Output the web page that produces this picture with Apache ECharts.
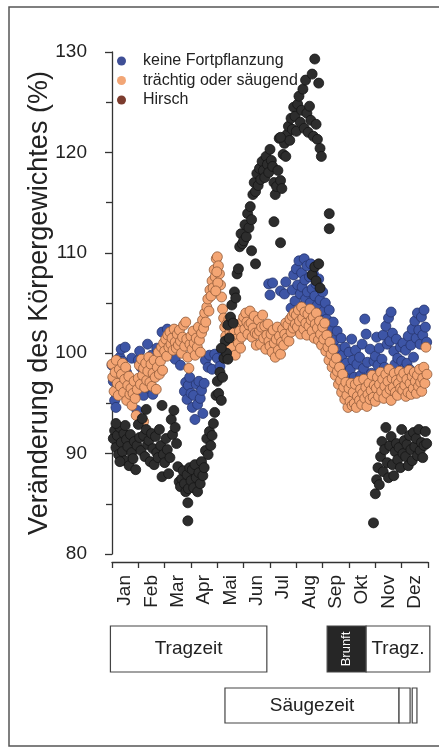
<!DOCTYPE html>
<html>
<head>
<meta charset="utf-8">
<script src="https://cdn.jsdelivr.net/npm/echarts@6/dist/echarts.min.js"></script>
<style>html,body{margin:0;padding:0;background:#fff}#c{width:439px;height:747px}</style>
</head>
<body>
<div id="c"></div>
<script>
const monthLabels = ['Jan','Feb','Mar','Apr','Mai','Jun','Jul','Aug','Sep','Okt','Nov','Dez'];
const seriesNames = ['keine Fortpflanzung','trächtig oder säugend','Hirsch'];

const keineFortpflanzung = [
[0.0,98.8],[0.05,97.2],[0.1,95.3],[0.15,94.6],[0.2,96.0],[0.25,98.5],[0.3,99.6],[0.35,100.4],[0.4,99.2],[0.45,97.8],[0.5,100.6],[0.55,98.1],[0.6,96.4],[0.7,97.0],[0.75,99.5],[0.8,95.6],[0.9,96.8],[0.95,94.3],
[1.0,99.3],[1.05,100.2],[1.1,98.6],[1.15,97.3],[1.2,95.8],[1.3,99.1],[1.35,100.9],[1.4,96.5],[1.5,99.8],[1.55,95.9],[1.6,98.2],[1.7,100.5],[1.8,99.6],[1.9,102.1],[1.95,100.3],
[2.0,99.8],[2.05,101.2],[2.1,102.4],[2.2,100.7],[2.3,101.8],[2.4,99.4],[2.5,100.6],[2.6,98.8],[2.75,96.2],[2.8,97.1],[2.85,95.4],[2.9,96.8],[2.95,97.6],
[3.0,96.0],[3.05,94.6],[3.1,95.8],[3.15,93.4],[3.2,96.9],[3.25,94.9],[3.3,97.2],[3.35,95.5],[3.4,96.3],[3.45,94.0],[3.5,97.0],[3.55,99.3],[3.65,98.6],[3.7,99.8],[3.8,98.4],[3.9,99.9],
[4.0,99.5],[4.1,98.7],[4.2,100.2],
[5.95,106.9],[6.0,105.8],[6.1,107.0],[6.4,106.2],[6.55,105.9],[6.6,107.1],
[6.8,104.5],[6.85,106.3],[6.9,107.8],[6.95,105.2],[7.0,108.4],[7.02,104.1],[7.05,106.8],[7.1,109.2],[7.12,103.6],[7.15,105.9],[7.2,108.0],[7.22,106.6],[7.25,104.7],[7.3,109.4],[7.32,107.3],[7.35,105.4],[7.4,108.7],[7.42,106.1],[7.45,103.9],[7.5,107.6],[7.52,105.0],[7.55,108.9],[7.6,106.4],[7.62,104.3],[7.65,107.9],[7.7,105.7],[7.72,103.2],[7.75,106.9],[7.8,104.8],[7.85,107.4],[7.9,105.3],[7.95,103.7],[8.0,106.1],[8.05,104.2],[8.1,102.6],[8.1,101.6],
[8.1,105.0],[8.15,103.4],[8.2,101.9],[8.25,104.3],[8.3,102.5],[8.35,100.8],[8.4,103.1],[8.45,101.3],[8.5,99.6],[8.55,102.2],[8.6,100.4],[8.65,98.9],[8.7,101.5],[8.75,99.8],[8.8,98.2],[8.85,100.6],[8.9,99.0],[8.95,97.4],
[9.0,100.1],[9.05,98.4],[9.1,101.4],[9.15,99.3],[9.2,97.6],[9.25,100.3],[9.3,98.9],[9.35,96.8],[9.4,99.6],[9.45,97.8],[9.5,100.9],[9.55,98.5],[9.6,103.4],[9.65,101.9],[9.7,99.1],[9.75,97.2],[9.8,100.4],[9.85,98.0],[9.9,96.5],[9.95,99.2],
[10.0,99.7],[10.05,101.6],[10.1,98.8],[10.15,100.5],[10.2,97.9],[10.25,99.4],[10.3,101.8],[10.35,98.6],[10.4,102.7],[10.45,100.9],[10.5,103.5],[10.55,101.2],[10.6,104.1],[10.65,102.0],[10.7,100.2],[10.75,98.9],[10.8,101.4],[10.85,99.5],[10.9,97.8],[10.95,100.6],
[11.0,99.2],[11.05,101.0],[11.1,98.5],[11.15,100.3],[11.2,99.0],[11.25,101.7],[11.3,98.4],[11.35,100.8],[11.4,102.4],[11.45,99.6],[11.5,103.2],[11.55,101.5],[11.6,104.0],[11.65,102.3],[11.7,100.9],[11.75,103.6],[11.8,101.8],[11.85,104.3],[11.9,102.6],[11.95,101.1]
];

const traechtigOderSaeugend = [
[0.0,98.9],[0.03,97.6],[0.08,96.2],[0.12,98.1],[0.16,99.3],[0.2,97.0],[0.24,95.8],[0.28,98.4],[0.32,96.7],[0.36,97.9],[0.4,99.0],[0.44,96.1],[0.48,97.4],[0.52,98.6],[0.56,95.3],[0.6,96.8],[0.64,97.7],[0.68,95.9],[0.72,96.5],[0.76,94.8],[0.8,96.0],[0.84,97.2],[0.88,95.5],[0.92,93.8],[0.96,96.4],
[1.0,97.5],[1.04,98.8],[1.08,96.9],[1.12,99.4],[1.16,97.8],[1.2,98.5],[1.24,96.6],[1.28,99.0],[1.32,97.3],[1.36,98.2],[1.4,99.6],[1.44,97.1],[1.48,98.9],[1.52,96.7],[1.56,98.0],[1.6,99.3],[1.64,97.6],[1.68,96.4],[1.72,98.6],[1.76,100.1],[1.8,97.9],[1.84,99.2],[1.88,100.6],[1.92,98.3],[1.96,101.0],[1.2,93.2],
[2.0,100.2],[2.04,101.4],[2.08,99.7],[2.12,101.8],[2.16,100.6],[2.2,102.1],[2.24,100.9],[2.28,101.5],[2.32,100.3],[2.36,102.4],[2.4,101.1],[2.44,100.5],[2.48,101.9],[2.52,100.8],[2.56,102.3],[2.6,101.2],[2.64,100.0],[2.68,101.6],[2.72,102.8],[2.76,100.7],[2.8,103.1],[2.84,101.4],[2.88,99.6],[2.92,98.5],[2.96,100.9],
[3.0,101.7],[3.04,100.4],[3.08,102.2],[3.12,101.0],[3.16,99.8],[3.2,101.5],[3.24,100.6],[3.28,102.6],[3.32,101.3],[3.36,100.1],[3.4,102.0],[3.44,103.3],[3.48,102.5],[3.52,104.0],[3.56,103.1],[3.6,104.6],[3.64,105.4],[3.68,104.2],[3.72,106.3],[3.76,105.7],[3.8,107.2],[3.84,106.5],[3.88,108.3],[3.92,107.6],[3.96,109.4],
[4.0,109.6],[4.04,108.7],[4.08,107.9],[4.12,106.8],[4.16,105.6],[4.2,104.4],[4.24,103.5],[4.28,102.6],[4.32,101.7],[4.36,102.9],[4.4,101.2],[4.44,103.4],[4.48,102.1],[4.52,100.6],[4.56,101.8],[4.6,103.0],[4.64,102.3],[4.68,99.8],[4.72,101.4],[4.76,102.8],[4.8,101.0],[4.84,102.2],[4.88,100.5],[4.92,101.6],[4.96,103.2],[3.98,108.1],[4.02,107.0],[3.94,106.2],
[5.0,103.6],[5.04,102.4],[5.08,104.0],[5.12,103.1],[5.16,101.9],[5.2,102.8],[5.24,104.2],[5.28,103.0],[5.32,101.6],[5.36,102.5],[5.4,103.7],[5.44,102.0],[5.48,100.8],[5.52,101.9],[5.56,103.3],[5.6,102.2],[5.64,100.9],[5.68,102.6],[5.72,103.8],[5.76,101.5],[5.8,102.7],[5.84,100.4],[5.88,101.8],[5.92,102.9],[5.96,101.2],
[6.0,100.7],[6.04,101.9],[6.08,100.1],[6.12,102.3],[6.16,101.0],[6.2,99.6],[6.24,101.4],[6.28,102.6],[6.32,100.3],[6.36,101.7],[6.4,99.9],[6.44,101.1],[6.48,102.4],[6.52,100.8],[6.56,101.9],[6.6,103.0],[6.64,101.5],[6.68,102.8],[6.72,101.2],[6.76,103.4],[6.8,102.1],[6.84,103.7],[6.88,102.5],[6.92,104.0],[6.96,102.9],
[7.0,103.8],[7.04,102.6],[7.08,104.3],[7.12,103.2],[7.16,101.9],[7.2,104.6],[7.24,103.5],[7.28,102.4],[7.32,104.1],[7.36,103.0],[7.4,101.8],[7.44,103.9],[7.48,102.7],[7.52,104.4],[7.56,103.3],[7.6,102.2],[7.64,103.6],[7.68,101.5],[7.72,102.9],[7.76,104.0],[7.8,102.5],[7.84,101.3],[7.88,103.2],[7.92,101.9],[7.96,100.8],
[8.0,102.6],[8.04,101.4],[8.08,103.0],[8.12,100.2],[8.16,101.8],[8.2,100.6],[8.24,99.3],[8.28,101.1],[8.32,99.9],[8.36,98.6],[8.4,100.4],[8.44,99.0],[8.48,97.8],[8.52,99.5],[8.56,98.2],[8.6,96.9],[8.64,98.6],[8.68,97.3],[8.72,96.1],[8.76,97.9],[8.8,96.6],[8.84,95.4],[8.88,97.1],[8.92,95.8],[8.96,94.6],
[9.0,96.5],[9.04,95.2],[9.08,97.0],[9.12,94.8],[9.16,96.1],[9.2,95.0],[9.24,96.9],[9.28,94.6],[9.32,95.7],[9.36,97.2],[9.4,95.3],[9.44,96.4],[9.48,94.9],[9.52,96.0],[9.56,97.4],[9.6,95.5],[9.64,96.6],[9.68,94.7],[9.72,95.9],[9.76,97.0],[9.8,95.4],[9.84,96.3],[9.88,97.8],[9.92,95.6],[9.96,96.8],
[10.0,95.2],[10.04,96.5],[10.08,97.6],[10.12,95.7],[10.16,96.9],[10.2,98.1],[10.24,96.2],[10.28,97.4],[10.32,95.5],[10.36,96.7],[10.4,97.9],[10.44,96.0],[10.48,97.2],[10.52,98.4],[10.56,96.4],[10.6,95.3],[10.64,97.5],[10.68,96.6],[10.72,98.0],[10.76,96.1],[10.8,97.3],[10.84,95.8],[10.88,97.0],[10.92,98.2],[10.96,96.5],
[11.0,97.6],[11.04,96.3],[11.08,98.0],[11.12,96.8],[11.16,95.7],[11.2,97.4],[11.24,96.1],[11.28,98.3],[11.32,97.0],[11.36,95.9],[11.4,97.7],[11.44,96.5],[11.48,98.1],[11.52,97.2],[11.56,96.0],[11.6,97.8],[11.64,96.7],[11.68,98.4],[11.72,97.1],[11.76,96.2],[11.8,97.5],[11.84,98.6],[11.88,97.0],[11.92,100.6],[11.96,97.9]
];

const hirsch = [
[0.05,91.5],[0.1,92.3],[0.15,90.6],[0.2,91.8],[0.25,89.9],[0.3,92.6],[0.35,91.1],[0.4,90.2],[0.45,92.0],[0.5,89.3],[0.55,91.4],[0.6,90.7],[0.65,88.8],[0.7,91.9],[0.75,90.1],[0.8,89.5],[0.85,91.2],[0.9,88.4],[0.95,90.8],[0.3,89.2],[0.5,92.8],[0.15,93.0],
[1.0,92.9],[1.05,91.6],[1.1,90.3],[1.15,93.5],[1.2,91.8],[1.25,89.7],[1.3,92.4],[1.35,90.9],[1.4,91.3],[1.45,89.2],[1.5,92.0],[1.55,90.5],[1.6,88.9],[1.65,91.7],[1.7,90.1],[1.75,89.6],[1.8,92.4],[1.85,90.8],[1.9,87.7],[1.95,89.9],[1.3,94.4],[1.9,94.8],
[2.0,89.1],[2.05,91.5],[2.1,90.4],[2.15,88.0],[2.2,89.6],[2.25,93.4],[2.3,91.9],[2.35,94.3],[2.4,92.6],[2.45,91.0],[2.5,88.7],[2.55,87.2],[2.6,86.7],[2.65,87.5],[2.7,88.3],[2.75,87.0],[2.8,86.2],[2.85,87.9],[2.9,86.5],[2.95,88.6],[2.88,85.1],[2.88,83.3],
[3.0,87.3],[3.05,88.4],[3.1,86.6],[3.15,88.9],[3.2,87.6],[3.25,86.2],[3.3,88.1],[3.35,87.0],[3.4,89.2],[3.45,87.8],[3.5,88.6],[3.55,90.3],[3.6,91.5],[3.65,89.9],[3.7,92.2],[3.75,90.8],[3.8,91.8],[3.85,93.0],[3.9,94.1],[3.95,95.8],
[4.0,97.2],[4.05,96.0],[4.1,98.1],[4.15,95.3],[4.2,97.6],[4.25,99.5],[4.3,101.2],[4.35,100.0],[4.4,102.8],[4.45,101.5],[4.5,103.6],[4.55,104.8],[4.6,103.0],[4.65,106.1],[4.75,107.9],[4.7,105.5],[4.8,108.4],[4.85,110.6],[4.9,111.9],[4.95,110.9],[4.4,99.4],[4.15,100.5],
[5.0,111.2],[5.05,112.8],[5.1,111.6],[5.15,113.9],[5.2,112.5],[5.25,114.6],[5.3,113.3],[5.35,115.8],[5.4,117.0],[5.45,116.1],[5.5,117.9],[5.55,116.7],[5.6,118.4],[5.65,117.3],[5.7,119.1],[5.75,118.2],[5.8,117.5],[5.85,119.6],[5.9,118.8],[5.3,110.2],[5.45,108.9],
[5.95,118.0],[6.0,120.3],[6.05,119.2],[6.1,118.6],[6.15,117.0],[6.2,115.8],[6.25,116.6],[6.3,118.2],[6.35,121.4],[6.4,117.2],[6.45,116.4],[6.5,119.8],[6.55,120.9],[6.6,119.6],[6.65,121.8],[6.7,122.6],[6.75,121.2],[6.8,123.4],[6.85,122.3],[6.9,124.5],[6.15,113.1],[6.4,111.0],[6.4,121.5],
[6.95,123.6],[7.0,122.1],[7.05,124.8],[7.1,125.6],[7.15,123.0],[7.2,124.2],[7.25,126.3],[7.3,122.4],[7.35,127.2],[7.4,123.9],[7.45,122.0],[7.5,124.6],[7.55,123.2],[7.6,127.8],[7.65,121.6],[7.7,129.3],[7.75,122.8],[7.8,121.3],[7.85,126.9],[7.9,120.4],[7.95,119.6],[8.25,113.9],[8.25,112.4],
[7.6,107.8],[7.7,108.6],[7.75,107.2],[7.85,108.9],[7.9,106.5],
[9.93,83.1],[10.0,86.0],[10.05,87.4],[10.1,88.6],[10.15,86.9],[10.2,89.7],[10.25,91.2],[10.3,88.2],[10.35,90.4],[10.4,92.6],[10.45,89.1],[10.5,87.6],[10.55,90.8],[10.6,91.7],[10.65,88.9],[10.7,87.8],[10.75,90.2],[10.8,91.0],[10.85,89.4],[10.9,90.6],[10.95,88.6],
[11.0,92.4],[11.05,90.0],[11.1,91.3],[11.15,89.7],[11.2,90.9],[11.25,88.8],[11.3,91.8],[11.35,90.4],[11.4,89.3],[11.45,92.1],[11.5,90.7],[11.55,91.5],[11.6,89.8],[11.65,92.4],[11.7,90.3],[11.75,91.1],[11.8,89.6],[11.85,90.8],[11.9,92.2],[11.95,91.0]
];

// Reproductive periods in months (0 = 1 Jan)
const periodNames = ['Tragzeit','Brunft','Tragz.','Säugezeit','',''];
const periodStart = [-0.06, 8.17, 9.65, 4.29, 10.9, 11.4];
const periodEnd   = [5.88, 9.65, 12.07, 10.9, 11.32, 11.58];
const periodRow   = [0, 0, 0, 1, 1, 1];

const chart = echarts.init(document.getElementById('c'), null, {renderer:'canvas'});
const FONT = 'Liberation Sans, Arial, sans-serif';
const colors = ['#3d55a6', '#f4a573', '#2d2d2d'];
const borders = ['#26356e', '#8f5a3a', '#151515'];

chart.setOption({
  animation: false,
  backgroundColor: '#fff',
  textStyle: {fontFamily: FONT},
  grid: {left: 112, right: 11, top: 52, bottom: 193},
  legend: {
    left: 112, top: 48, orient: 'vertical', itemWidth: 9, itemHeight: 9, itemGap: 3.5,
    icon: 'circle', selectedMode: false,
    textStyle: {fontFamily: FONT, fontSize: 16, color: '#222', lineHeight: 16, padding: [0,0,0,12]},
    data: [
      {name: seriesNames[0], itemStyle: {color: '#3f4f96', borderWidth: 0}},
      {name: seriesNames[1], itemStyle: {color: '#f2a676', borderWidth: 0}},
      {name: seriesNames[2], itemStyle: {color: '#7c3c2e', borderWidth: 0}}
    ]
  },
  xAxis: [
    {type: 'value', min: 0, max: 12, interval: 1, offset: 8, position: 'bottom',
     axisLine: {show: true, lineStyle: {color: '#333', width: 1.3}},
     axisTick: {show: true, length: 6, lineStyle: {color: '#333', width: 1.3}},
     axisLabel: {show: false}, splitLine: {show: false}},
    {type: 'category', data: monthLabels, boundaryGap: true, offset: 8, position: 'bottom',
     axisLine: {show: false}, axisTick: {show: false}, splitLine: {show: false},
     axisLabel: {rotate: 90, margin: 13, fontSize: 19, color: '#222', fontFamily: FONT, interval: 0}}
  ],
  yAxis: {
    type: 'value', min: 80, max: 130, interval: 10, offset: 10,
    name: 'Veränderung des Körpergewichtes (%)', nameLocation: 'middle', nameGap: 49,
    nameMoveOverlap: false,
    nameTextStyle: {fontSize: 27, color: '#222', fontFamily: FONT},
    axisLine: {show: true, lineStyle: {color: '#333', width: 1.3}},
    axisTick: {show: true, length: 7, lineStyle: {color: '#333', width: 1.3}},
    minorTick: {show: true, splitNumber: 2, length: 6, lineStyle: {color: '#333', width: 1.3}},
    axisLabel: {fontSize: 19, color: '#222', margin: 15, fontFamily: FONT},
    splitLine: {show: false}
  },
  series: [
    {name: seriesNames[0], type: 'scatter', data: keineFortpflanzung, symbolSize: 10, z: 2,
     itemStyle: {color: colors[0], borderColor: borders[0], borderWidth: 0.8, opacity: 1}},
    {name: seriesNames[1], type: 'scatter', data: traechtigOderSaeugend, symbolSize: 10, z: 3,
     itemStyle: {color: colors[1], borderColor: borders[1], borderWidth: 0.8, opacity: 1}},
    {name: seriesNames[2], type: 'scatter', data: hirsch, symbolSize: 10, z: 4,
     itemStyle: {color: colors[2], borderColor: borders[2], borderWidth: 0.8, opacity: 1}}
  ]
});

// Period boxes under the axis, positioned through the month scale
const rowTop = [626, 688];
const rowH = [46, 35];
const elems = [{
  type: 'rect', shape: {x: 9, y: 7, width: 500, height: 739},
  style: {fill: null, stroke: '#555', lineWidth: 1.5}, silent: true, z: -1
}];
for (let i = 0; i < periodNames.length; i++) {
  const x0 = chart.convertToPixel({xAxisIndex: 0}, periodStart[i]);
  const x1 = chart.convertToPixel({xAxisIndex: 0}, periodEnd[i]);
  const r = periodRow[i];
  const dark = periodNames[i] === 'Brunft';
  elems.push({type: 'rect', shape: {x: x0, y: rowTop[r], width: x1 - x0, height: rowH[r]},
    style: {fill: dark ? '#262626' : '#fff', stroke: '#444', lineWidth: 1.2}});
  if (periodNames[i]) {
    elems.push({type: 'text', x: (x0 + x1) / 2, y: rowTop[r] + rowH[r] / 2,
      rotation: dark ? Math.PI / 2 : 0,
      style: {text: periodNames[i], fill: dark ? '#fff' : '#222', fontSize: dark ? 13 : 19,
        fontFamily: FONT, align: 'center', verticalAlign: 'middle'}});
  }
}
chart.setOption({graphic: {elements: elems}});
</script>
</body>
</html>
